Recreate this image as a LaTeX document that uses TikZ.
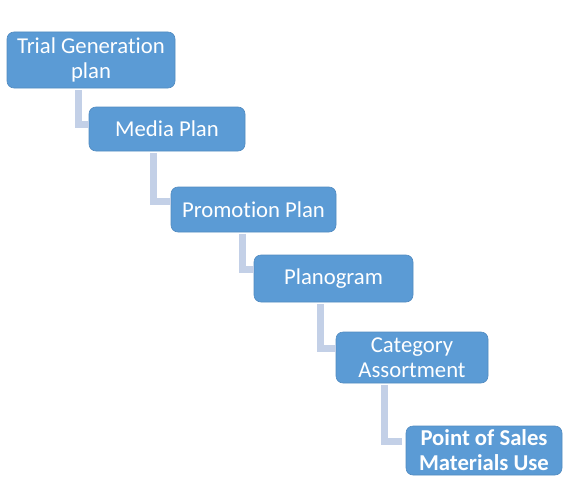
\documentclass[tikz,border=0pt]{standalone}
\usepackage{fontspec}
\setmainfont[Ligatures={NoCommon}]{Carlito}
\usetikzlibrary{calc}
\definecolor{boxblue}{HTML}{5B9BD5}
\definecolor{connblue}{HTML}{C3D0E7}
\tikzset{
  stepbox/.style={rectangle, rounded corners=7pt, fill=boxblue, draw=boxblue!90!black, line width=0.6pt,
    text=white, font=\fontsize{22.7}{25}\selectfont, align=center, inner sep=1pt},
  conn/.style={draw=connblue, line width=7pt, line join=miter}
}
\begin{document}
\begin{tikzpicture}[x=1pt,y=-1pt]
\useasboundingbox (0,0) rectangle (580,495);
\node[stepbox, minimum width=168pt, minimum height=56pt] (b1) at (91,60) {Trial Generation\\plan};
\node[stepbox, minimum width=156pt, minimum height=44pt] (b2) at (167,129) {Media Plan};
\node[stepbox, minimum width=165pt, minimum height=45pt] (b3) at (253.5,209.5) {Promotion Plan};
\node[stepbox, minimum width=159pt, minimum height=47pt] (b4) at (333.5,278.5) {Planogram};
\node[stepbox, minimum width=152pt, minimum height=51pt] (b5) at (412,357.5) {Category\\Assortment};
\node[stepbox, minimum width=156pt, minimum height=49pt, font=\fontsize{22.7}{25}\selectfont\bfseries] (b6) at (484,450.5) {Point of Sales\\Materials Use};
\coordinate (x1) at (78,0);
\coordinate (x2) at (153,0);
\coordinate (x3) at (242,0);
\coordinate (x4) at (320,0);
\coordinate (x5) at (384,0);
\draw[conn] ($(x1 |- b1.south)+(0,2)$) |- ($(b2.west)+(0,-5)$);
\draw[conn] ($(x2 |- b2.south)+(0,2)$) |- ($(b3.west)+(0,-8.5)$);
\draw[conn] ($(x3 |- b3.south)+(0,2)$) |- ($(b4.west)+(0,-9.5)$);
\draw[conn] ($(x4 |- b4.south)+(0,2)$) |- ($(b5.west)+(0,-9.5)$);
\draw[conn] ($(x5 |- b5.south)+(0,2)$) |- ($(b6.west)+(-4,-9.5)$);
\end{tikzpicture}
\end{document}
